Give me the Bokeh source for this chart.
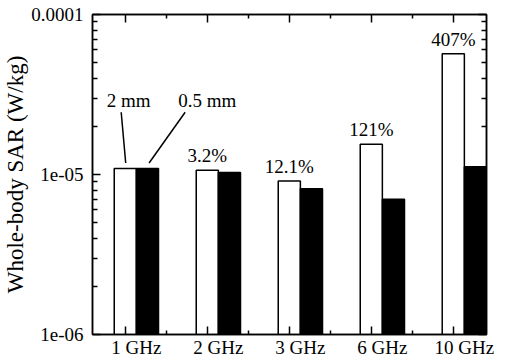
from bokeh.plotting import figure
from bokeh.models import LinearAxis, LogAxis, FixedTicker, Range1d, ColumnDataSource, Label
from bokeh.core.properties import value
from bokeh.embed import file_html
from bokeh.resources import INLINE

# ---- data ----
categories = ["1 GHz", "2 GHz", "3 GHz", "6 GHz", "10 GHz"]
sar_2mm = [1.09e-5, 1.064e-5, 0.912e-5, 1.546e-5, 5.68e-5]
sar_05mm = [1.09e-5, 1.031e-5, 0.815e-5, 0.70e-5, 1.12e-5]
pct_labels = ["", "3.2%", "12.1%", "121%", "407%"]
y_ticks = [1e-6, 1e-5, 1e-4]
y_tick_labels = ["1e-06", "1e-05", "0.0001"]
y_title = "Whole-body SAR (W/kg)"

FONT = "Liberation Serif"
bar_w = 0.27
y_start, y_end = 1e-6, 1e-4
x_start = 0.6

idx = [i + 1 for i in range(len(categories))]
x_black = [i + bar_w for i in idx]
x_lab = [i + bar_w / 2 for i in idx]

p = figure(width=500, height=360, y_axis_type="log",
           x_range=Range1d(x_start, 5 + 1.5 * bar_w), y_range=Range1d(y_start, y_end),
           output_backend="svg", toolbar_location=None, x_axis_location=None,
           min_border_left=91, min_border_right=14, min_border_top=14, min_border_bottom=26)
p.grid.visible = False
p.outline_line_color = "black"
p.outline_line_width = 1.5
p.background_fill_color = "white"
p.border_fill_color = "white"

src = ColumnDataSource(dict(x=idx, xb=x_black, w=sar_2mm, b=sar_05mm, pct=pct_labels))
p.vbar(x="x", top="w", bottom=y_start, width=bar_w, source=src,
       fill_color="white", line_color="black", line_width=1.5)
p.vbar(x="xb", top="b", bottom=y_start, width=bar_w, source=src,
       fill_color="black", line_color="black", line_width=1.5)
p.text(x="x", y="w", text="pct", source=src, text_align="center",
       text_baseline="bottom", y_offset=-4,
       text_font=value(FONT), text_font_size="19px", text_color="black")

# annotations "2 mm" / "0.5 mm" with leader lines
p.segment(x0=[1.005, 1.29], y0=[1.18e-5, 1.18e-5], x1=[0.95, 1.73], y1=[2.45e-5, 2.45e-5],
          line_color="black", line_width=1.5)
for tx, t in [(1.04, "2 mm"), (2.0, "0.5 mm")]:
    p.add_layout(Label(x=tx, y=2.49e-5, text=t, text_align="center", text_baseline="bottom",
                       text_font=FONT, text_font_size="19px", text_color="black"))

minor_y = [k * 10.0 ** e for e in (-6, -5) for k in range(2, 10)]
x_ticker = FixedTicker(ticks=idx, minor_ticks=[i + 0.5 for i in idx[:-1]])

def style(ax, minor_len):
    ax.axis_line_width = 1.5
    ax.axis_line_color = "black"
    ax.major_tick_in = 8
    ax.major_tick_out = 0
    ax.minor_tick_in = minor_len
    ax.minor_tick_out = 0
    ax.major_tick_line_width = 1.5
    ax.minor_tick_line_width = 1.5
    ax.major_tick_line_color = "black"
    ax.minor_tick_line_color = "black"
    ax.major_label_text_font = FONT
    ax.major_label_text_font_size = "19px"
    ax.major_label_text_color = "black"

def hide_labels(ax, ticks):
    ax.major_label_overrides = {t: "" for t in ticks}
    ax.major_label_text_font_size = "0px"
    ax.major_label_standoff = 0

# left y axis
ly = p.yaxis[0]
ly.ticker = FixedTicker(ticks=y_ticks, minor_ticks=minor_y)
style(ly, 5)
ly.major_label_overrides = dict(zip(y_ticks, y_tick_labels))
ly.major_label_standoff = 9
ly.axis_label = y_title
ly.axis_label_text_font = FONT
ly.axis_label_text_font_size = "23px"
ly.axis_label_text_font_style = "normal"
ly.axis_label_text_color = "black"
ly.axis_label_standoff = 0

# right y axis (ticks only)
ry = LogAxis(ticker=FixedTicker(ticks=y_ticks, minor_ticks=minor_y))
style(ry, 5)
hide_labels(ry, y_ticks)
p.add_layout(ry, "right")

# bottom tick axis
bx = LinearAxis(ticker=x_ticker)
style(bx, 4)
hide_labels(bx, idx)
p.add_layout(bx, "below")

# bottom label axis (labels centred under each pair)
bl = LinearAxis(ticker=FixedTicker(ticks=x_lab, minor_ticks=[]))
style(bl, 0)
bl.axis_line_color = None
bl.major_tick_line_color = None
bl.minor_tick_line_color = None
bl.major_tick_in = 0
bl.major_label_standoff = 2
bl.major_label_overrides = dict(zip(x_lab, categories))
p.add_layout(bl, "below")

# top tick axis
tx_ax = LinearAxis(ticker=x_ticker)
style(tx_ax, 4)
hide_labels(tx_ax, idx)
p.add_layout(tx_ax, "above")

open("out.html", "w").write(file_html(p, INLINE))
